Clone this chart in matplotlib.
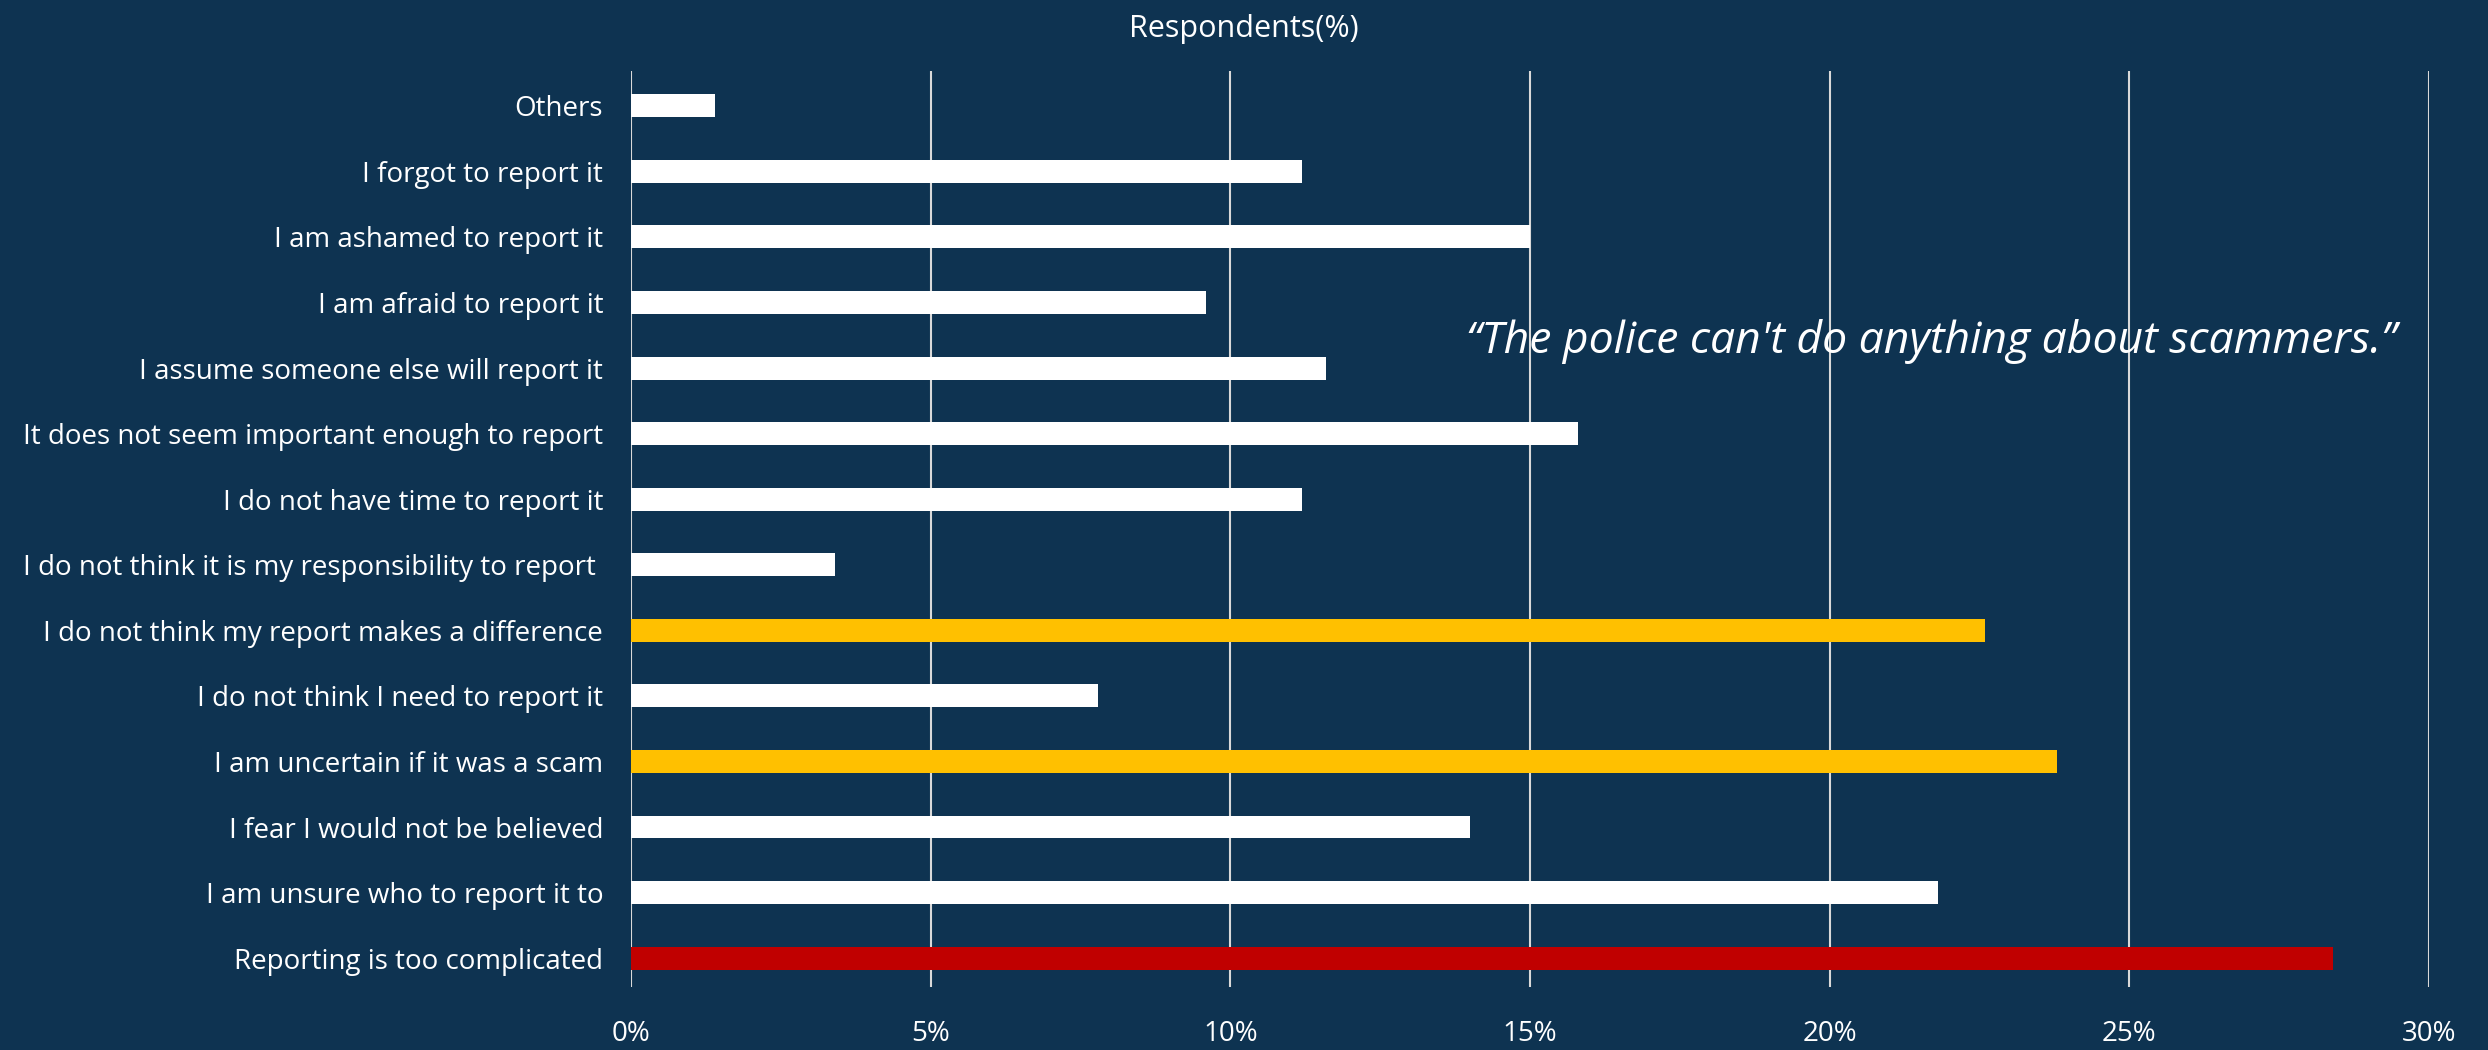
import matplotlib
matplotlib.use("Agg")
import matplotlib.pyplot as plt
from matplotlib.ticker import FuncFormatter

categories = [
    "Others",
    "I forgot to report it",
    "I am ashamed to report it",
    "I am afraid to report it",
    "I assume someone else will report it",
    "It does not seem important enough to report",
    "I do not have time to report it",
    "I do not think it is my responsibility to report ",
    "I do not think my report makes a difference",
    "I do not think I need to report it",
    "I am uncertain if it was a scam",
    "I fear I would not be believed",
    "I am unsure who to report it to",
    "Reporting is too complicated",
]
values = [1.4, 11.2, 15.0, 9.6, 11.6, 15.8, 11.2, 3.4, 22.6, 7.8, 23.8, 14.0, 21.8, 28.4]
highlight = ["white"] * 8 + ["#FFC000", "white", "#FFC000", "white", "white", "#C00000"]
xticks = [0, 5, 10, 15, 20, 25, 30]
quote = "\u201cThe police can't do anything about scammers.\u201d"

BG = "#0E3351"
plt.rcParams['font.family'] = ['Open Sans', 'DejaVu Sans']

fig = plt.figure(figsize=(24.88, 10.5), dpi=100, facecolor=BG)
ax = fig.add_axes([631/2488, 1 - 987/1050, (2429-631)/2488, (987-71)/1050])
ax.set_facecolor(BG)

ypos = list(range(len(categories)))
ax.barh(ypos, values, height=0.35, color=highlight, zorder=3)
ax.set_ylim(13.44, -0.53)
ax.set_xlim(0, 30)
ax.set_xticks(xticks)
ax.xaxis.set_major_formatter(FuncFormatter(lambda v, p: f"{v:.0f}%"))
ax.set_yticks(ypos)
ax.set_yticklabels(categories)
ax.grid(axis='x', color='#D9D9D9', linewidth=1.5, zorder=1)
for s in ax.spines.values():
    s.set_visible(False)
ax.tick_params(axis='both', length=0, colors='white', labelsize=20)
ax.tick_params(axis='x', pad=24)
ax.tick_params(axis='y', pad=20)

fig.text(0.5, 1 - 29 / 1050, "Respondents(%)", color='white',
         fontsize=22, ha='center', va='center')
ax.text(29.45, 3.6, quote, color='white', fontsize=32, style='italic',
        ha='right', va='center', zorder=4)

fig.savefig("out.png", dpi=100, facecolor=BG)
